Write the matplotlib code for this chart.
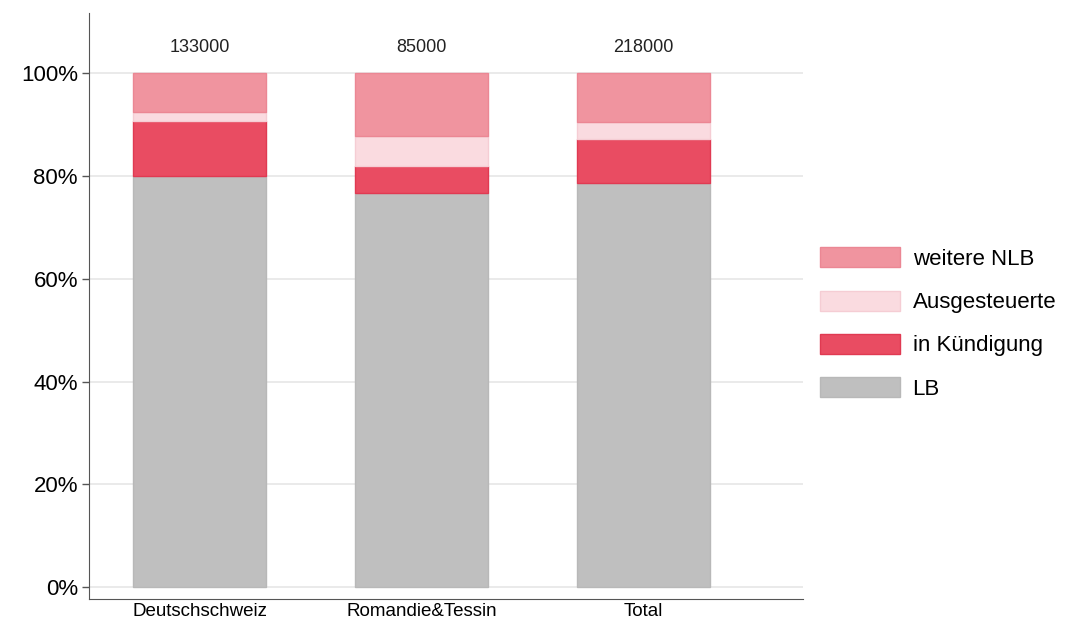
import matplotlib.pyplot as plt
import numpy as np

plt.rcParams['font.family'] = ['Liberation Sans', 'DejaVu Sans']

# Daten (Anteile in %)
regionen = ['Deutschschweiz', 'Romandie&Tessin', 'Total']
totals = [133000, 85000, 218000]
lb = [80.0, 76.7, 78.7]
kuendigung = [10.7, 5.2, 8.5]
ausgesteuerte = [1.7, 5.8, 3.4]
weitere_nlb = [7.6, 12.3, 9.4]

serien = ['LB', 'in Kündigung', 'Ausgesteuerte', 'weitere NLB']
farben = ['#bfbfbf', '#e94c62', '#fadbe0', '#f0949f']
kanten = ['#b8b8b8', '#e03a52', '#f5cdd4', '#eb8794']

fig = plt.figure(figsize=(10.83, 6.27), dpi=100)
ax = fig.add_axes([0.0822, 0.0447, 0.6593, 0.9343])

x = np.arange(len(regionen))
bottom = np.zeros(len(regionen))
handles = []
for name, werte, c, ec in zip(serien, [lb, kuendigung, ausgesteuerte, weitere_nlb], farben, kanten):
    h = ax.bar(x, werte, 0.6, bottom=bottom, color=c, edgecolor=ec, linewidth=1, label=name, zorder=2)
    handles.append(h)
    bottom += np.array(werte)

# Gesamtzahlen über den Balken
for xi, t in zip(x, totals):
    ax.text(xi, 105, str(t), ha='center', va='center', fontsize=13, color='#222222')

ax.set_xlim(-0.5, 2.72)
ax.set_ylim(-2.3, 111.7)
ax.set_yticks([0, 20, 40, 60, 80, 100])
ax.set_yticklabels(['0%', '20%', '40%', '60%', '80%', '100%'], fontsize=16)
ax.set_xticks(x)
ax.set_xticklabels(regionen, fontsize=13.5)
ax.tick_params(axis='x', length=0, pad=3)
ax.tick_params(axis='y', length=5, width=1, color='#555555', pad=3)
ax.grid(axis='y', color='#e6e6e6', linewidth=1.2, zorder=0)
ax.set_axisbelow(True)
for s in ['top', 'right']:
    ax.spines[s].set_visible(False)
ax.spines['left'].set_color('#555555')
ax.spines['bottom'].set_color('#555555')

leg = fig.legend(handles[::-1], serien[::-1], loc='center left', bbox_to_anchor=(0.739, 0.484),
                 frameon=False, fontsize=16, handlelength=3.6, handleheight=1.0,
                 labelspacing=0.93, handletextpad=0.55)

plt.savefig('out.png', dpi=100)
